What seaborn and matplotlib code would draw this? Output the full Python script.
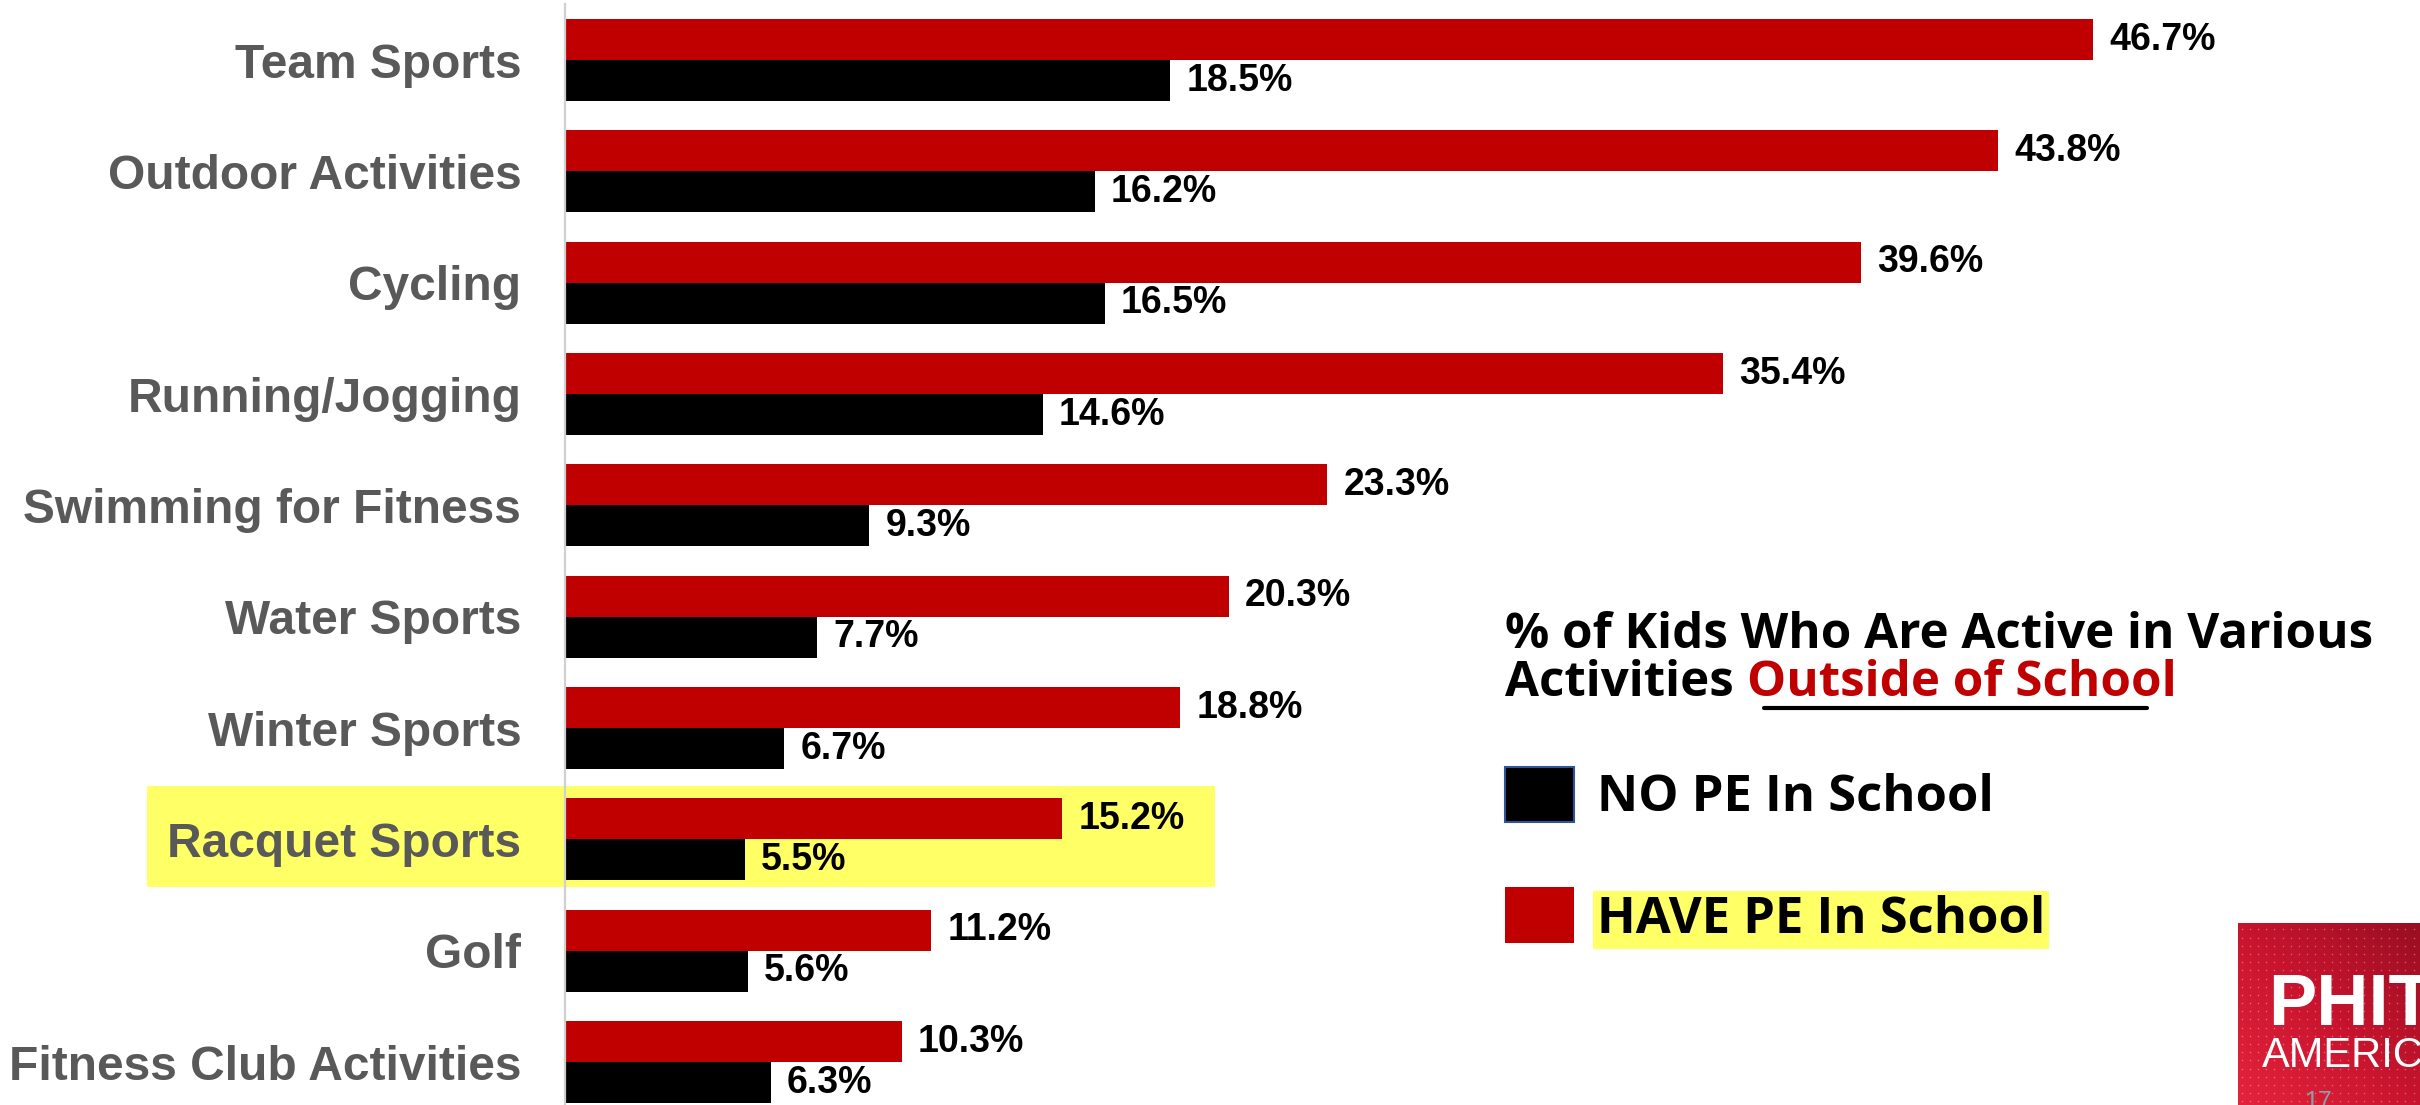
import matplotlib
matplotlib.use("Agg")
import numpy as np
import pandas as pd
import seaborn as sns
import matplotlib.pyplot as plt
from matplotlib.patches import Rectangle
from matplotlib.lines import Line2D
from matplotlib.colors import LinearSegmentedColormap

# ---- data -------------------------------------------------------------
categories = [
    "Team Sports", "Outdoor Activities", "Cycling", "Running/Jogging",
    "Swimming for Fitness", "Water Sports", "Winter Sports",
    "Racquet Sports", "Golf", "Fitness Club Activities",
]
have_pe = [46.7, 43.8, 39.6, 35.4, 23.3, 20.3, 18.8, 15.2, 11.2, 10.3]
no_pe = [18.5, 16.2, 16.5, 14.6, 9.3, 7.7, 6.7, 5.5, 5.6, 6.3]
series_names = ["HAVE PE In School", "NO PE In School"]

title_line1 = "% of Kids Who Are Active in Various"
title_line2_a = "Activities"
title_line2_b = "Outside of School"

RED = "#C00000"
BLACK = "#000000"
GREY = "#595959"
YELLOW = "#FFFF66"

df = pd.DataFrame({
    "activity": categories * 2,
    "pct": have_pe + no_pe,
    "group": [series_names[0]] * len(categories) + [series_names[1]] * len(categories),
})

# ---- figure -----------------------------------------------------------
sns.set_theme(style="white")
plt.rcParams["font.family"] = ["Liberation Sans", "DejaVu Sans"]

W, H, DPI = 2420, 1105, 100
fig = plt.figure(figsize=(W / DPI, H / DPI), dpi=DPI, facecolor="white")


def fx(px):
    return px / W


def fy(py):
    return 1 - py / H


ax = fig.add_axes([fx(565), fy(1117.7), 1 - fx(565), 1113.3 / H])
ax.patch.set_visible(False)

sns.barplot(
    data=df, y="activity", x="pct", hue="group",
    order=categories, hue_order=series_names,
    palette={series_names[0]: RED, series_names[1]: BLACK},
    orient="h", width=0.737, saturation=1, legend=False,
    edgecolor="none", linewidth=0, errorbar=None, ax=ax,
)

ax.set_xlim(0, 56.69)
ax.set_ylim(len(categories) - 0.5, -0.5)
ax.set_xlabel("")
ax.set_ylabel("")
ax.set_xticks([])
for side in ("top", "right", "bottom"):
    ax.spines[side].set_visible(False)
ax.spines["left"].set_color("#D0D0D0")
ax.spines["left"].set_linewidth(1.6)
ax.tick_params(axis="y", length=0, pad=31.5, labelsize=34.5, labelcolor=GREY)
for lbl in ax.get_yticklabels():
    lbl.set_fontweight("bold")

for container in ax.containers:
    ax.bar_label(container, fmt="%.1f%%", padding=11.5, fontsize=27,
                 fontweight="bold", color=BLACK)

# highlight band behind the racquet sports row
fig.add_artist(Rectangle((fx(147), fy(887)), fx(1215) - fx(147), (887 - 786) / H,
                         transform=fig.transFigure, facecolor=YELLOW,
                         edgecolor="none", zorder=-1))

# ---- title and key ----------------------------------------------------
tfont = dict(family=["Open Sans", "DejaVu Sans"], weight="bold")
TSIZE = 35.5
fig.text(fx(1505), fy(648), title_line1, fontsize=TSIZE, color=BLACK,
         va="baseline", ha="left", **tfont)
t2a = fig.text(fx(1505), fy(696), title_line2_a, fontsize=TSIZE, color=BLACK,
               va="baseline", ha="left", **tfont)
fig.canvas.draw()
x_after = t2a.get_window_extent().x1 + 0.27 * TSIZE * DPI / 72
fig.text(x_after / W, fy(696), title_line2_b, fontsize=TSIZE, color=RED,
         va="baseline", ha="left", **tfont)
fig.add_artist(Line2D([fx(1764), fx(2147)], [fy(708), fy(708)],
                      transform=fig.transFigure, color=BLACK, lw=3.0))

LSIZE = 36.5
fig.add_artist(Rectangle((fx(1505), fy(822)), fx(1574) - fx(1505), (822 - 767) / H,
                         transform=fig.transFigure, facecolor=BLACK,
                         edgecolor="#2F5597", lw=1.5))
fig.text(fx(1597), fy(811), series_names[1], fontsize=LSIZE, color=BLACK,
         va="baseline", ha="left", **tfont)

fig.add_artist(Rectangle((fx(1505), fy(943)), fx(1574) - fx(1505), (943 - 887) / H,
                         transform=fig.transFigure, facecolor=RED,
                         edgecolor="none"))
fig.text(fx(1597), fy(933), series_names[0], fontsize=LSIZE, color=BLACK,
         va="baseline", ha="left",
         bbox=dict(facecolor=YELLOW, edgecolor="none", pad=3), **tfont)

# ---- corner logo --------------------------------------------------------
lax = fig.add_axes([fx(2238), 0, 1 - fx(2238), (1105 - 923) / H])
gx, gy = np.meshgrid(np.linspace(0, 1, 60), np.linspace(0, 1, 60))
grad = (gx + (1 - gy)) / 2
cmap = LinearSegmentedColormap.from_list("logo", ["#E5233D", "#C8142E", "#9A0E22"])
lax.imshow(grad, cmap=cmap, extent=(0, 1, 0, 1), aspect="auto", origin="upper")
dx, dy = np.meshgrid(np.arange(0.02, 1.0, 0.045), np.arange(0.02, 1.0, 0.045))
lax.scatter(dx.ravel(), dy.ravel(), s=1.2, color="white", alpha=0.35, lw=0)
lax.set_xlim(0, 1)
lax.set_ylim(0, 1)
lax.axis("off")

fig.text(fx(2268), fy(1025), "PHIT", fontsize=52, color="white",
         weight="heavy", va="baseline", ha="left", family=["Liberation Sans"])
fig.text(fx(2262), fy(1067), "AMERICA", fontsize=30, color="white",
         weight="normal", va="baseline", ha="left", family=["Liberation Sans"])
fig.text(fx(2304), fy(1090), "17", fontsize=18, color="#8AA0A6",
         va="top", ha="left", family=["Liberation Sans"])

fig.savefig("out.png", dpi=DPI, facecolor="white")
